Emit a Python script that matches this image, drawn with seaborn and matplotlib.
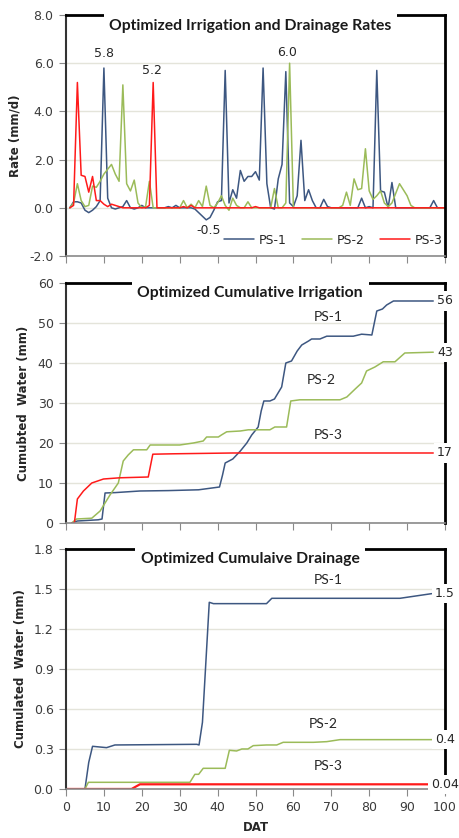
import numpy as np
import pandas as pd
import matplotlib.pyplot as plt
import seaborn as sns
from matplotlib.ticker import FormatStrFormatter

# ---- data ----
series = ['PS-1', 'PS-2', 'PS-3']
colors = {'PS-1': '#3d5781', 'PS-2': '#9bbb59', 'PS-3': '#ff1a1a'}

days = list(range(1, 101))

rate_ps1 = [0, 0.25, 0.25, 0.2, -0.1, -0.2, -0.1, 0.05, 0.3, 5.8,
            0.4, 0, -0.05, 0, 0.05, 0.3, 0, -0.05, 0, 0.1,
            0, 0, 0, 0, 0, 0, 0.05, 0, 0.1, 0,
            0, 0, 0, -0.05, -0.2, -0.35, -0.5, -0.4, -0.1, 0.25,
            0.3, 5.7, 0.2, 0.75, 0.4, 1.55, 1.1, 1.3, 1.3, 1.5,
            1.15, 5.8, 1.0, 0, -0.05, 1.2, 1.8, 5.65, 0.2, 0.05,
            0.5, 2.8, 0.3, 0.75, 0.3, 0, 0, 0.35, 0.05, 0,
            0, 0, 0, 0, 0, 0, 0, 0.4, 0, 0.05,
            0, 5.7, 0.7, 0.65, 0, 1.05, 0, 0, 0, 0,
            0, 0, 0, 0, 0, 0, 0.3, 0, 0, 0]
rate_ps2 = [0, 0.2, 1.0, 0.3, 0.05, 0.1, 0.9, 0.85, 1.1, 1.4,
            1.6, 1.8, 1.4, 1.1, 5.1, 1.0, 0.7, 1.15, 0.2, 0,
            0.05, 1.1, 0, 0, 0, 0, 0, 0, 0, 0,
            0.3, 0, 0.15, 0, 0.3, 0.05, 0.9, 0.1, 0, 0.2,
            0.5, 0.1, -0.1, 0.4, 0.1, 0, 0, 0.25, 0, 0,
            0, 0, 0, 0, 0.8, 0, 0, 0.2, 6.0, 0,
            0, 0, 0, 0, 0, 0, 0, 0, 0, 0,
            0, 0, 0.1, 0.65, 0.1, 1.2, 0.75, 0.8, 2.45, 0.7,
            0.35, 0.5, 0.7, 0.2, 0.05, 0.2, 0.6, 1.0, 0.75, 0.5,
            0.1, 0, 0, 0, 0, 0, 0, 0, 0, 0]
rate_ps3 = [0, 0.1, 5.2, 1.35, 1.3, 0.65, 1.3, 0.3, 0.3, 0.15,
            0.05, 0.15, 0.1, 0.05, 0, 0, 0, 0, 0, 0,
            0, 0.1, 5.2, 0, 0, 0, 0, 0, 0, 0,
            0.05, 0, 0.1, 0, 0, 0, 0, 0, 0, 0,
            0, 0, 0, 0, 0, 0, 0, 0, 0, 0.05,
            0, 0, 0, 0, 0, 0, 0, 0, 0, 0,
            0, 0, 0, 0, 0, 0, 0, 0, 0, 0,
            0, 0, 0, 0, 0, 0, 0, 0, 0, 0,
            0, 0, 0, 0, 0, 0, 0, 0, 0, 0,
            0, 0, 0, 0, 0, 0, 0, 0, 0, 0]

irr_ps1_day = [1.5, 3, 8.5, 9.5, 10.3, 13, 19.5, 27, 35, 40.5, 41.3, 42, 44, 46, 47.7, 49,
               50.7, 51.5, 52.2, 53.8, 55, 56.9, 58, 59.5, 61, 62.2, 64, 64.8, 67, 68.8,
               75.8, 78, 80.7, 82, 83.5, 84.6, 86.4, 96.9]
irr_ps1 = [0, 0.5, 0.8, 1.0, 7.5, 7.6, 8, 8.1, 8.3, 9, 12, 15, 16, 18, 20, 22,
           24, 28, 30.5, 30.5, 31, 34, 40, 40.5, 43, 44.5, 45.5, 46, 46, 46.7,
           46.7, 47.2, 47.0, 53, 53.5, 54.5, 55.5, 55.5]
irr_ps2_day = [1.5, 2.8, 6.8, 9, 11.6, 13.8, 15.1, 16.4, 17.8, 21.3, 22.2, 30, 33.6, 36.2,
               37.1, 40.2, 41, 42.4, 46, 48.1, 53.8, 55.1, 58.2, 59.3, 61.7, 72.3, 74.1,
               76.3, 78, 79.3, 81.5, 83.7, 86.8, 89.4, 96.9]
irr_ps2 = [0, 1.0, 1.2, 3, 7, 10, 15.5, 17, 18.3, 18.3, 19.5, 19.5, 20, 20.5,
           21.5, 21.5, 22, 22.8, 23, 23.3, 23.3, 24, 24, 30.5, 30.8, 30.8, 31.5,
           33.5, 35, 38, 39, 40.3, 40.3, 42.5, 42.7]
irr_ps3_day = [1.5, 2.2, 3, 4.6, 6.8, 9.9, 14.2, 21.7, 22.9, 28.3, 44, 96.9]
irr_ps3 = [0, 0, 6, 8, 10, 11, 11.3, 11.5, 17.2, 17.3, 17.5, 17.5]

drn_ps1_day = [0, 5, 6, 7, 10.7, 12.9, 34.5, 35.1, 36, 37, 37.8, 38.9, 52.9, 54.3, 88.1, 96.5]
drn_ps1 = [0, 0, 0.2, 0.32, 0.31, 0.33, 0.335, 0.33, 0.5, 1.0, 1.4, 1.39, 1.39, 1.43, 1.43, 1.465]
drn_ps2_day = [0, 5, 5.9, 32.7, 34, 35, 36.2, 42, 43.1, 45, 46.4, 48, 49.4, 52.9, 55.6,
               57.3, 65.3, 68.8, 72.3, 96.9]
drn_ps2 = [0, 0, 0.05, 0.05, 0.11, 0.11, 0.155, 0.155, 0.29, 0.285, 0.3, 0.3, 0.325,
           0.33, 0.33, 0.35, 0.35, 0.355, 0.37, 0.37]
drn_ps3_day = [0, 17.3, 19.5, 96.9]
drn_ps3 = [0, 0, 0.035, 0.035]

irr_end_labels = ['56', '43', '17']
drn_end_labels = ['1.5', '0.4', '0.04']
peak_labels = ['5.8', '5.2', '-0.5', '6.0']

# ---- style ----
sns.set_style('white')
plt.rcParams['font.family'] = ['DejaVu Sans']
TITLE_FONT = 'Lato'
tick_col = '#3b3b3b'

fig = plt.figure(figsize=(4.6, 8.38), dpi=100)
ax1 = fig.add_axes([0.1435, 0.6945, 0.8239, 0.2876])
ax2 = fig.add_axes([0.1435, 0.3759, 0.8239, 0.2864])
ax3 = fig.add_axes([0.1435, 0.0585, 0.8239, 0.2864])


def style_axes(ax, ylim, ystep, fmt, show_x):
    ax.set_xlim(0, 100)
    ax.set_ylim(*ylim)
    ax.set_yticks(np.arange(ylim[0], ylim[1] + ystep / 2, ystep))
    ax.set_xticks(np.arange(0, 101, 10))
    ax.yaxis.set_major_formatter(FormatStrFormatter(fmt))
    ax.grid(axis='y', color='#e4e4da', lw=1)
    ax.set_axisbelow(True)
    ax.tick_params(direction='out', length=5, color='#8a8a8a', labelsize=9,
                   labelcolor=tick_col, pad=4, left=True, bottom=True)
    if not show_x:
        ax.tick_params(axis='x', labelbottom=False)
    for side in ['top', 'right']:
        ax.spines[side].set_color('black')
        ax.spines[side].set_linewidth(2)
    ax.spines['left'].set_color('#333333')
    ax.spines['left'].set_linewidth(1.5)
    ax.spines['bottom'].set_color('#8a8a8a')
    ax.spines['bottom'].set_linewidth(1.2)
    ax.set_xlabel('')


def panel_title(ax, text, y):
    ax.text(0.486, y, text, transform=ax.transAxes, ha='center', va='center',
            fontsize=11.3, fontweight='bold', family=TITLE_FONT, color='#1a1a1a',
            bbox=dict(boxstyle='square,pad=0.35', fc='white', ec='none'),
            zorder=5, clip_on=False)


# ---- panel 1: rates ----
rate_df = pd.DataFrame({'DAT': days, 'PS-1': rate_ps1, 'PS-2': rate_ps2, 'PS-3': rate_ps3})
for s in series:
    sns.lineplot(data=rate_df, x='DAT', y=s, color=colors[s], lw=1.1,
                 estimator=None, ax=ax1, label=s)
style_axes(ax1, (-2, 8), 2, '%.1f', False)
ax1.set_ylabel('Rate (mm/d)', fontsize=8.5, fontweight='bold')
ax1.yaxis.set_label_coords(-0.117, 0.5)
panel_title(ax1, 'Optimized Irrigation and Drainage Rates', 0.954)
for lab, (px, py) in zip(peak_labels, [(9.9, 6.4), (22.6, 5.7), (37.6, -0.95), (58.4, 6.45)]):
    ax1.text(px, py, lab, ha='center', va='center', fontsize=9, color='#262626')
ax1.legend(loc='center', bbox_to_anchor=(0.705, 0.066), ncol=3, frameon=False,
           fontsize=9, handlelength=2.4, columnspacing=1.2, handletextpad=0.4,
           labelcolor='#262626')

# ---- panel 2: cumulative irrigation ----
irr = [(irr_ps1_day, irr_ps1), (irr_ps2_day, irr_ps2), (irr_ps3_day, irr_ps3)]
for s, (d, v) in zip(series, irr):
    sns.lineplot(x=d, y=v, color=colors[s], lw=1.1, estimator=None, sort=False, ax=ax2)
style_axes(ax2, (0, 60), 10, '%d', False)
ax2.set_ylabel('Cumubted  Water (mm)', fontsize=8.5, fontweight='bold')
ax2.yaxis.set_label_coords(-0.095, 0.5)
panel_title(ax2, 'Optimized Cumulative Irrigation', 0.96)
for s, (px, py) in zip(series, [(69.1, 51.4), (67.3, 35.8), (69.1, 22.0)]):
    ax2.text(px, py, s, ha='center', va='center', fontsize=10, family=TITLE_FONT, color='#262626')
for lab, (d, v) in zip(irr_end_labels, irr):
    ax2.text(100, v[-1], lab, ha='center', va='center', fontsize=9, color='#262626',
             bbox=dict(boxstyle='square,pad=0.25', fc='white', ec='none'),
             zorder=5, clip_on=False)

# ---- panel 3: cumulative drainage ----
drn = [(drn_ps1_day, drn_ps1), (drn_ps2_day, drn_ps2), (drn_ps3_day, drn_ps3)]
for s, (d, v) in zip(series, drn):
    sns.lineplot(x=d, y=v, color=colors[s], lw=1.1 if s != 'PS-3' else 1.6,
                 estimator=None, sort=False, ax=ax3)
style_axes(ax3, (0, 1.8), 0.3, '%.1f', True)
ax3.set_ylabel('Cumulated  Water (mm)', fontsize=8.5, fontweight='bold')
ax3.yaxis.set_label_coords(-0.103, 0.5)
ax3.set_xlabel('DAT', fontsize=8.5, fontweight='bold', labelpad=5)
panel_title(ax3, 'Optimized Cumulaive Drainage', 0.958)
for s, (px, py) in zip(series, [(69.2, 1.57), (67.9, 0.49), (69.2, 0.17)]):
    ax3.text(px, py, s, ha='center', va='center', fontsize=10, family=TITLE_FONT, color='#262626')
for lab, (d, v) in zip(drn_end_labels, drn):
    ax3.text(100, v[-1], lab, ha='center', va='center', fontsize=9, color='#262626',
             bbox=dict(boxstyle='square,pad=0.25', fc='white', ec='none'),
             zorder=5, clip_on=False)

fig.savefig('out.png', dpi=100)
